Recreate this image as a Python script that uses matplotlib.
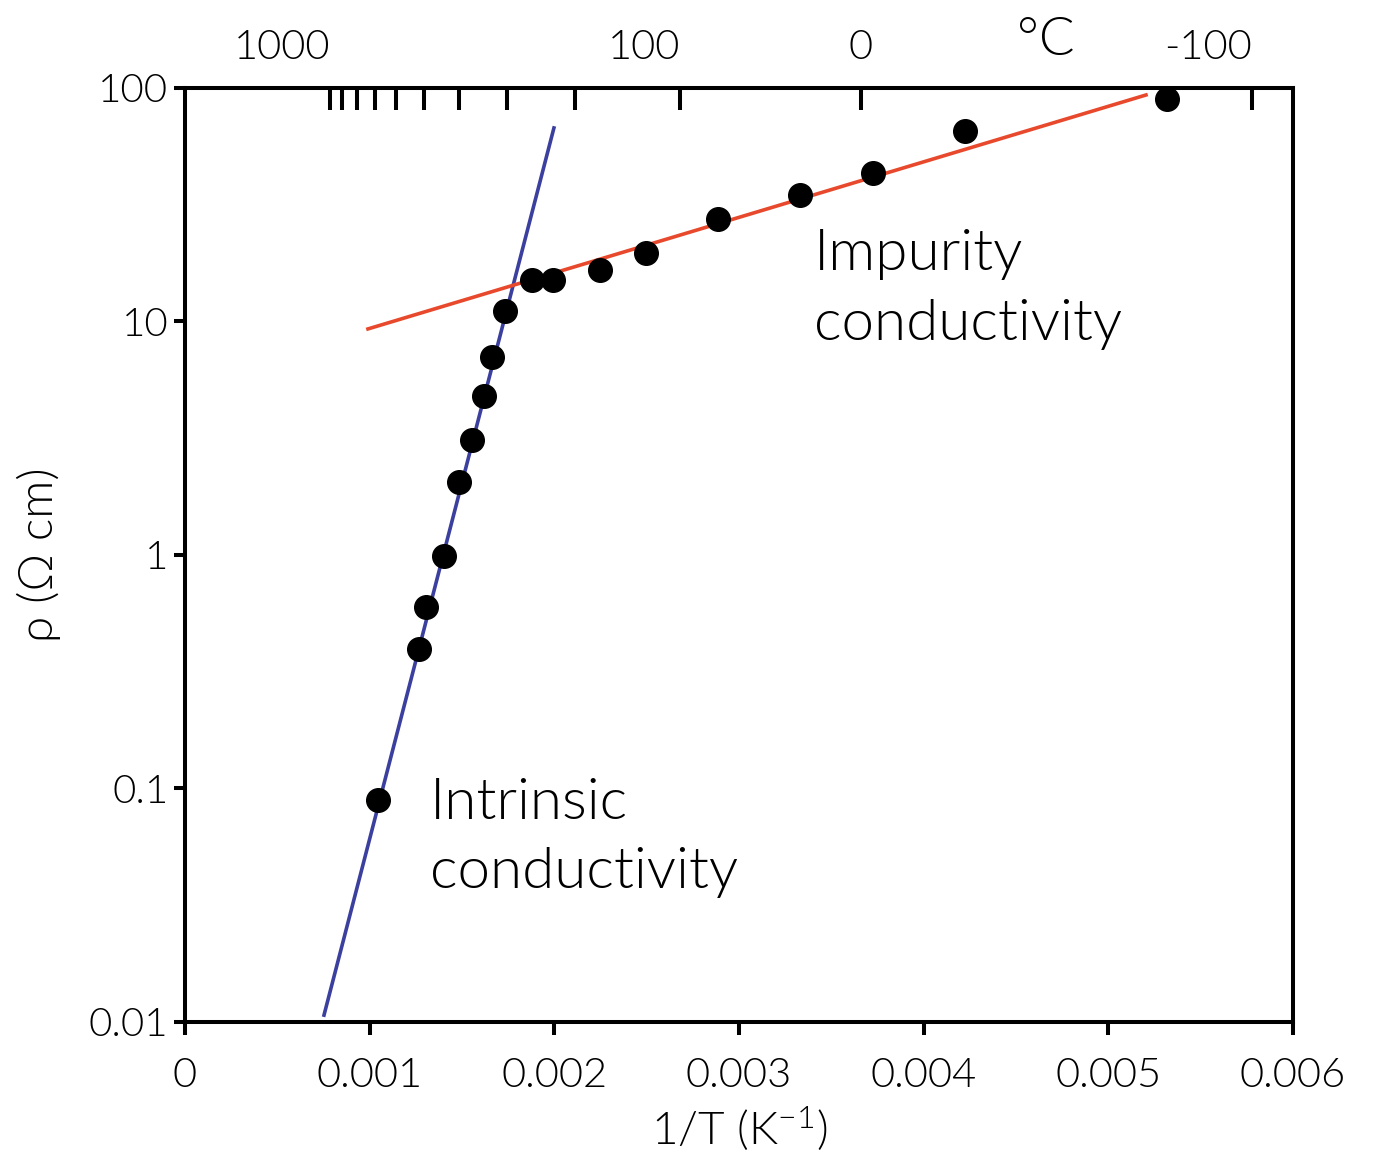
import numpy as np
import matplotlib
matplotlib.use("Agg")
import matplotlib.pyplot as plt

plt.rcParams['font.family'] = ['Lato', 'DejaVu Sans']
plt.rcParams['font.weight'] = 300
plt.rcParams['axes.labelweight'] = 300
plt.rcParams['mathtext.default'] = 'regular'

# measured points: 1/T (K^-1) and resistivity (ohm cm)
inv_T = [0.001045, 0.001267, 0.001305, 0.001403, 0.001484, 0.001554, 0.001619,
         0.001662, 0.001733, 0.001879, 0.001993, 0.002247, 0.002496, 0.002886,
         0.00333, 0.003726, 0.004224, 0.005318]
rho = [0.089, 0.395, 0.60, 0.99, 2.05, 3.1, 4.8, 7.05, 11.1, 15.1, 15.1, 16.6,
       19.6, 27.5, 34.8, 43.2, 65.4, 89.8]

# straight-line fits (end points)
intrinsic_x = [0.000753, 0.001998]
intrinsic_rho = [0.0107, 67.4]
impurity_x = [0.000991, 0.005204]
impurity_rho = [9.29, 93.3]

x_ticks = [0, 0.001, 0.002, 0.003, 0.004, 0.005, 0.006]
x_ticklabels = ['0', '0.001', '0.002', '0.003', '0.004', '0.005', '0.006']
y_ticks = [0.01, 0.1, 1, 10, 100]
y_ticklabels = ['0.01', '0.1', '1', '10', '100']

# top axis in degrees Celsius
celsius_ticks = [1000, 900, 800, 700, 600, 500, 400, 300, 200, 100, 0, -100]
celsius_labeled = [1000, 100, 0, -100]

txt = 'black'

fig = plt.figure(figsize=(13.77, 11.68), dpi=100)
ax = fig.add_axes([0.1343, 0.125, 0.8047, 0.7997])

ax.plot(intrinsic_x, intrinsic_rho, color='#3b3f9e', lw=2.6, zorder=2)
ax.plot(impurity_x, impurity_rho, color='#e8492c', lw=2.6, zorder=2)
ax.plot(inv_T, rho, 'o', color='black', ms=17, zorder=3)

ax.set_yscale('log')
ax.set_xlim(0, 0.006)
ax.set_ylim(0.01, 100)
ax.set_xticks(x_ticks)
ax.set_xticklabels(x_ticklabels)
ax.set_yticks(y_ticks)
ax.set_yticklabels(y_ticklabels)
ax.minorticks_off()

for s in ax.spines.values():
    s.set_linewidth(2.9)
ax.tick_params(axis='x', direction='out', length=9, width=2.9, pad=16,
               labelsize=30, labelcolor=txt)
ax.tick_params(axis='y', direction='out', length=8, width=2.9, pad=4,
               labelsize=29, labelcolor=txt)

ax.set_xlabel(r'1/T (K$^{-1}$)', fontsize=33, labelpad=8, color=txt)
ax.set_ylabel('ρ (Ω cm)', fontsize=34, labelpad=20, color=txt)

# Celsius scale along the top
top = ax.twiny()
top.set_xlim(ax.get_xlim())
top_pos = [1.0 / (c + 273.15) for c in celsius_ticks]
top.set_xticks(top_pos)
top.set_xticklabels([str(c) if c in celsius_labeled else '' for c in celsius_ticks])
top.tick_params(axis='x', direction='in', length=16, width=2.9, pad=16,
                labelsize=30, labelcolor=txt)
for c, lab in zip(celsius_ticks, top.get_xticklabels()):
    lab.set_horizontalalignment('center' if c == 0 else 'right')
top.minorticks_off()
top.annotate('°C', xy=(0.00466, 1.0), xycoords=('data', 'axes fraction'),
             xytext=(0, 17), textcoords='offset points', ha='center', va='bottom',
             fontsize=38, color=txt)

# va='baseline' aligns the last line here
ax.text(0.003405, 8.34, 'Impurity\nconductivity', fontsize=42, color=txt,
        ha='left', va='baseline', linespacing=1.45)
ax.text(0.001327, 0.0375, 'Intrinsic\nconductivity', fontsize=42, color=txt,
        ha='left', va='baseline', linespacing=1.45)

fig.savefig('out.png', dpi=100)
